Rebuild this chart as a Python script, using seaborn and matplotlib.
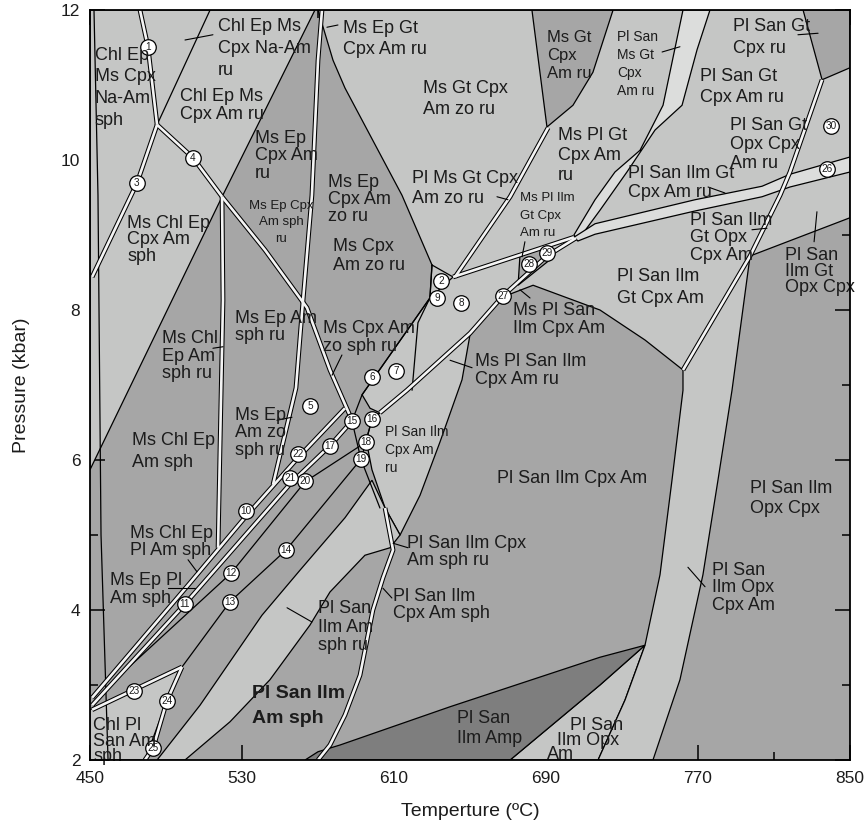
import numpy as np
import pandas as pd
import matplotlib
matplotlib.use("Agg")
import matplotlib.pyplot as plt
import matplotlib.transforms as mtransforms
import seaborn as sns

sns.set_theme(style="white")
plt.rcParams["font.family"] = ["Liberation Sans", "DejaVu Sans"]

# colours of the stability fields
MID = "#a6a6a6"
LIGHT = "#c5c6c5"
PALE = "#dcdddc"
DARK = "#7e7e7e"
GAP = "#f4f4f4"
INK = "#1c1c1c"

# ---------------- field polygons, (T degC, P kbar) ----------------
field_chl_ep_ms = [(450, 12), (568.4, 12), (519.5, 9.51), (450, 5.87)]
field_central = [(570, 12), (850, 12), (850, 9.23), (797.4, 8.72), (762.1, 7.2),
                 (742.1, 7.6), (718.4, 8.0), (683.2, 8.33), (665.8, 8.16), (650, 7.67),
                 (616.8, 6.93), (602.6, 6.63), (597.4, 6.69), (593.2, 6.87), (628.9, 8.16),
                 (630, 8.6), (614.2, 9.53), (584.2, 10.96), (577.9, 11.33)]
field_ilm_cpx_ru = [(650, 7.67), (645.8, 7.07), (634.2, 6.24), (623.7, 5.53), (613.2, 5.0),
                    (605.3, 5.36), (598.4, 5.87), (595.3, 6.27), (598.4, 6.53), (602.6, 6.63),
                    (616.8, 6.93)]
band_sph_ru = [(485.3, 2), (507.9, 2.73), (540.5, 3.93), (560.5, 4.53), (584.2, 5.23),
               (598.4, 5.73), (605.3, 5.36), (613.2, 5.0), (607.9, 4.83), (594.7, 4.73),
               (576.3, 4.24), (565.8, 3.8), (544.7, 3.07), (523.7, 2.51), (500, 2)]
field_chl_pl = [(450, 2.67), (498.4, 3.24), (490.5, 2.79), (478.9, 2), (450, 2)]
field_amp = [(563.2, 2), (570, 2.11), (581.6, 2.2), (639.5, 2.71), (718.4, 3.37),
             (742.1, 3.53), (718.4, 3.0), (671.1, 2)]
field_opx_am = [(671.1, 2), (718.4, 3.0), (742.1, 3.53), (731.6, 2.8), (717.4, 2)]
band_opx = [(797.4, 8.72), (787.9, 6.93), (780.5, 5.73), (772.6, 4.47), (760.5, 3.07),
            (746.3, 2), (717.4, 2), (731.6, 2.8), (742.1, 3.53), (750, 4.47),
            (756.3, 5.73), (762.1, 6.93), (762.1, 7.2)]
wedge_ms_gt = [(682.6, 12), (690.5, 10.44), (704.2, 10.73), (714.7, 11.17), (725.3, 12)]
wedge_corner = [(825.3, 12), (835.3, 11.07), (850, 11.23), (850, 12)]
pocket_28 = [(676.3, 8.73), (688.4, 8.83), (692.1, 8.67), (675.3, 8.33)]
band_upper = [(762.1, 12), (751.6, 10.73), (739.5, 10.13), (726.3, 9.84), (715.8, 9.47),
              (704.7, 9.0), (706.8, 8.93), (718.4, 9.33), (732.6, 9.84), (747.4, 10.4),
              (761.6, 10.73), (769.5, 11.47), (776.3, 12)]
band_gt_ilm = [(704.7, 8.97), (715.8, 9.15), (768.4, 9.47), (803.7, 9.65), (818.4, 9.81),
               (850, 10.04), (850, 9.84), (818.4, 9.64), (803.7, 9.51), (768.4, 9.32),
               (715.8, 9.01), (706.8, 8.92)]

# ---------------- narrow (double-line) fields ----------------
dbl_1 = [(476.3, 12), (480.5, 11.51), (485.3, 10.47)]
dbl_2 = [(485.3, 10.47), (474.7, 9.69), (451.1, 8.44)]
dbl_3 = [(485.3, 10.47), (504.2, 10.03), (519.5, 9.51)]
dbl_v = [(519.5, 9.51), (520, 8.13), (518.4, 6.13), (517.4, 4.83)]
dbl_c = [(519.5, 9.51), (542.1, 8.8), (564.2, 8.03), (576.3, 7.2), (587.9, 6.53)]
dbl_n = [(572.1, 12), (570, 11.33), (566.8, 9.53), (561.6, 7.97), (558.4, 6.96), (546.3, 5.67)]
dbl_f = [(642.1, 8.44), (671.1, 9.51), (691.1, 10.43)]
dbl_tb = [(641.1, 8.44), (704.7, 8.97)]
dbl_k = [(602.6, 6.63), (616.8, 6.93), (650, 7.69), (667.4, 8.19), (690.5, 8.72), (705.8, 8.96)]
dbl_opx = [(835.3, 11.07), (818.4, 9.84), (813.2, 9.53), (797.4, 8.72), (762.1, 7.2)]
dbl_sph = [(605.3, 5.36), (609.5, 4.8), (604.2, 4.43), (598.9, 4.0), (592.1, 3.13),
           (584.2, 2.6), (576.3, 2.2), (570, 2.0)]
dbl_23 = [(451.1, 2.67), (498.4, 3.24)]
dbl_24 = [(498.4, 3.24), (490.5, 2.79), (483.2, 2.16), (478.9, 2)]
dbl_ll1 = [(451.1, 2.73), (500, 4.08), (555.3, 5.68), (576.3, 6.19), (587.9, 6.52)]
dbl_ll2 = [(451.1, 2.83), (501.6, 4.33), (532.1, 5.25), (559.5, 6.03), (584.2, 6.69)]

# ---------------- single reaction lines ----------------
ln_4 = [(485.3, 10.47), (513.2, 12)]
ln_left = [(452.1, 12), (454.2, 9.53), (455.8, 5.0), (459.5, 2.0)]
ln_e = [(628.9, 8.16), (593.2, 6.87), (587.9, 6.52), (592.6, 6.01), (602.6, 5.36)]
ln_tri = [(630, 8.6), (641.1, 8.44), (628.9, 8.16), (630, 8.6)]
ln_nv = [(628.9, 8.16), (622.6, 7.83), (619.5, 6.93)]
ln_ll4 = [(498.4, 3.24), (523.7, 4.11), (553.2, 4.8), (592.6, 6.01)]
ln_ll5 = [(465.8, 3.13), (524.2, 4.49), (563.2, 5.71), (595.3, 6.24)]
ln_16 = [(602.6, 6.63), (598.4, 6.55), (595.3, 6.24), (592.6, 6.01)]

leaders = [
    [(500, 11.6), (514.7, 11.67)], [(574.7, 11.77), (580.5, 11.8)],
    [(751.1, 11.44), (760.5, 11.51)], [(822.6, 11.67), (833.2, 11.69)],
    [(664.2, 9.51), (670, 9.47)], [(775.3, 9.64), (784.2, 9.56)],
    [(798.4, 9.07), (806.3, 9.09)], [(832.6, 9.31), (831.1, 8.91)],
    [(678.9, 8.91), (677.4, 8.71)], [(676.3, 8.27), (681.6, 8.16)],
    [(639.5, 7.33), (651.1, 7.23)], [(514.7, 7.49), (520, 7.51)],
    [(548.4, 6.53), (556.3, 6.57)], [(582.6, 7.4), (577.4, 7.13)],
    [(501.6, 4.67), (506.3, 4.51)], [(491.1, 4.29), (505.3, 4.29)],
    [(553.7, 4.03), (566.8, 3.84)], [(609.5, 4.89), (617.4, 4.83)],
    [(604.2, 4.29), (608.9, 4.16)], [(764.7, 4.57), (773.7, 4.31)],
]

# ---------------- invariant points ----------------
pt_id = list(range(1, 31))
pt_T = [480.5, 634.7, 474.7, 504.2, 565.8, 598.4, 611.1, 645.3, 632.6, 532.1,
        500.0, 524.2, 523.7, 553.2, 587.9, 598.4, 576.3, 595.3, 592.6, 563.2,
        555.3, 559.5, 473.2, 490.5, 483.2, 837.9, 667.4, 681.1, 690.5, 840.0]
pt_P = [11.51, 8.39, 9.69, 10.03, 6.72, 7.11, 7.19, 8.09, 8.16, 5.32,
        4.08, 4.49, 4.11, 4.80, 6.52, 6.55, 6.19, 6.24, 6.01, 5.72,
        5.76, 6.08, 2.92, 2.79, 2.16, 9.88, 8.19, 8.61, 8.76, 10.45]

# ---------------- field labels: lines, T, P(top), size, line pitch (pt) ----------------
labels = [
    (["Chl Ep", "Ms Cpx", "Na-Am", "sph"], 452.6, 11.51, 13, 15.6),
    (["Chl Ep Ms", "Cpx Na-Am", "ru"], 517.4, 11.89, 13, 15.6),
    (["Chl Ep Ms", "Cpx Am ru"], 497.4, 10.96, 13, 13.2),
    (["Ms Ep", "Cpx Am", "ru"], 536.8, 10.40, 13, 12.6),
    (["Ms Ep Gt", "Cpx Am ru"], 583.2, 11.87, 13, 15.6),
    (["Ms Gt Cpx", "Am zo ru"], 625.3, 11.07, 13, 15.6),
    (["Ms Gt", "Cpx", "Am ru"], 690.5, 11.73, 12, 13.0),
    (["Pl San", "Ms Gt", "Cpx", "Am ru"], 727.4, 11.73, 10, 13.0),
    (["Pl San Gt", "Cpx ru"], 788.4, 11.89, 13, 15.6),
    (["Pl San Gt", "Cpx Am ru"], 771.1, 11.23, 13, 15.6),
    (["Pl San Gt", "Opx Cpx", "Am ru"], 786.8, 10.57, 13, 13.7),
    (["Pl San Ilm Gt", "Cpx Am ru"], 733.2, 9.93, 13, 13.2),
    (["Ms Pl Gt", "Cpx Am", "ru"], 696.3, 10.44, 13, 14.4),
    (["Pl Ms Gt Cpx", "Am zo ru"], 619.5, 9.87, 13, 14.4),
    (["Ms Ep", "Cpx Am", "zo ru"], 575.3, 9.81, 13, 12.2),
    (["Ms Chl Ep", "Cpx Am", "sph"], 469.5, 9.27, 13, 12.0),
    (["Ms Cpx", "Am zo ru"], 577.9, 8.96, 13, 13.7),
    (["Ms Pl Ilm", "Gt Cpx", "Am ru"], 676.3, 9.57, 9.5, 12.6),
    (["Pl San Ilm", "Gt Opx", "Cpx Am"], 765.8, 9.31, 13, 12.6),
    (["Pl San", "Ilm Gt", "Opx Cpx"], 815.8, 8.84, 13, 11.5),
    (["Pl San Ilm", "Gt Cpx Am"], 727.4, 8.56, 13, 15.6),
    (["Ms Pl San", "Ilm Cpx Am"], 672.6, 8.11, 13, 13.0),
    (["Ms Pl San Ilm", "Cpx Am ru"], 652.6, 7.43, 13, 13.0),
    (["Ms Cpx Am", "zo sph ru"], 572.6, 7.87, 13, 13.0),
    (["Ms Ep Am", "sph ru"], 526.3, 8.00, 13, 12.0),
    (["Ms Chl", "Ep Am", "sph ru"], 487.9, 7.73, 13, 12.6),
    (["Ms Ep", "Am zo", "sph ru"], 526.3, 6.71, 13, 12.6),
    (["Ms Chl Ep", "Am sph"], 472.1, 6.37, 13, 15.6),
    (["Pl San Ilm", "Cpx Am", "ru"], 605.3, 6.47, 10, 13.0),
    (["Pl San Ilm Cpx Am"], 664.2, 5.87, 13, 13.0),
    (["Pl San Ilm", "Opx Cpx"], 797.4, 5.73, 13, 14.4),
    (["Ms Chl Ep", "Pl Am sph"], 471.1, 5.13, 13, 12.2),
    (["Ms Ep Pl", "Am sph"], 460.5, 4.51, 13, 13.0),
    (["Pl San Ilm Cpx", "Am sph ru"], 616.8, 5.00, 13, 12.2),
    (["Pl San Ilm", "Cpx Am sph"], 609.5, 4.29, 13, 12.2),
    (["Pl San", "Ilm Am", "sph ru"], 570.0, 4.13, 13, 13.3),
    (["Pl San", "Ilm Opx", "Cpx Am"], 777.4, 4.64, 13, 12.6),
    (["Pl San", "Ilm Amp"], 643.2, 2.67, 13, 14.4),
    (["Pl San"], 702.6, 2.57, 13, 13.0),
    (["Ilm Opx"], 695.8, 2.37, 13, 13.0),
    (["Am"], 690.5, 2.19, 13, 13.0),
    (["Chl Pl", "San Am", "sph"], 451.6, 2.57, 13, 11.2),
]
bold_label = (["Pl San Ilm", "Am sph"], 535.3, 3.00, 14, 18.0)
small_centered = (["Ms Ep Cpx", "Am sph", "ru"], 550.5, 9.47, 9.5, 11.9)

x_major = [450, 530, 610, 690, 770, 850]
x_minor = [490, 570, 650, 730, 810]
y_major = [2, 4, 6, 8, 10, 12]
y_minor = [3, 5, 7, 9, 11]

# ---------------- drawing ----------------
fig = plt.figure(figsize=(8.67, 8.38), dpi=100)
ax = fig.add_axes([90 / 867, 1 - 760 / 838, 760 / 867, 750 / 838])
ax.set_facecolor(MID)
ax.set_xlim(450, 850)
ax.set_ylim(2, 12)

def fill(poly, color, z=1):
    a = np.array(poly)
    ax.fill(a[:, 0], a[:, 1], facecolor=color, edgecolor="black", lw=0.9, zorder=z)

for poly in [field_chl_ep_ms, field_central, field_ilm_cpx_ru, band_sph_ru,
             field_chl_pl, field_opx_am, band_opx]:
    fill(poly, LIGHT, 1)
for poly in [wedge_ms_gt, wedge_corner, pocket_28]:
    fill(poly, MID, 2)
fill(field_amp, DARK, 2)
for poly in [band_upper, band_gt_ilm]:
    fill(poly, PALE, 3)

def path(pts, name):
    a = np.array(pts)
    return pd.DataFrame({"T": a[:, 0], "P": a[:, 1], "line": name, "ord": range(len(a))})

single = pd.concat([path(p, f"s{i}") for i, p in
                    enumerate([ln_4, ln_left, ln_e, ln_tri, ln_nv, ln_ll4, ln_ll5, ln_16])])
for name, g in single.groupby("line"):
    sns.lineplot(data=g, x="T", y="P", sort=False, estimator=None, color="black",
                 lw=0.9, ax=ax, zorder=4)

doubles = [dbl_1, dbl_2, dbl_3, dbl_v, dbl_c, dbl_n, dbl_f, dbl_tb, dbl_k, dbl_opx,
           dbl_sph, dbl_23, dbl_24, dbl_ll1, dbl_ll2]
for p in doubles:
    g = path(p, "d")
    sns.lineplot(data=g, x="T", y="P", sort=False, estimator=None, color="black",
                 lw=3.4, ax=ax, zorder=5, solid_capstyle="butt", solid_joinstyle="round")
    sns.lineplot(data=g, x="T", y="P", sort=False, estimator=None, color=GAP,
                 lw=1.9, ax=ax, zorder=6, solid_capstyle="butt", solid_joinstyle="round")

for seg in leaders:
    a = np.array(seg)
    ax.plot(a[:, 0], a[:, 1], color="black", lw=0.8, zorder=7)

pts = pd.DataFrame({"T": pt_T, "P": pt_P, "id": pt_id})
sns.scatterplot(data=pts, x="T", y="P", s=125, color="white", edgecolor="black",
                linewidth=0.9, ax=ax, zorder=8, legend=False)
for _, r in pts.iterrows():
    ax.text(r["T"], r["P"], str(int(r["id"])), fontsize=7.2, ha="center", va="center",
            color=INK, zorder=9)

def put(lines, T, P, size, pitch, weight="normal", ha="left"):
    for i, s in enumerate(lines):
        tr = mtransforms.offset_copy(ax.transData, fig=fig, y=-i * pitch, units="points")
        ax.text(T, P, s, transform=tr, fontsize=size, ha=ha, va="top",
                fontweight=weight, color=INK, zorder=10)

for lines, T, P, size, pitch in labels:
    put(lines, T, P, size, pitch)
put(*bold_label, weight="bold")
put(*small_centered, ha="center")

ax.set_xticks(x_major)
ax.set_xticks(x_minor, minor=True)
ax.set_yticks(y_major)
ax.set_yticks(y_minor, minor=True)
ax.tick_params(which="both", direction="in", top=True, right=True, bottom=True,
               left=True, width=1.1, color="black", labelsize=12.5, labelcolor=INK)
ax.tick_params(axis="x", which="major", pad=8)
ax.tick_params(axis="y", which="major", pad=7)
ax.tick_params(which="major", length=11)
ax.tick_params(which="minor", length=6)
for sp in ax.spines.values():
    sp.set_color("black")
    sp.set_linewidth(1.3)
    sp.set_zorder(12)
ax.set_xlabel("Temperture (ºC)", fontsize=14, color=INK, labelpad=12)
ax.set_ylabel("Pressure (kbar)", fontsize=14, color=INK, labelpad=22)

fig.savefig("out.png", dpi=100)
